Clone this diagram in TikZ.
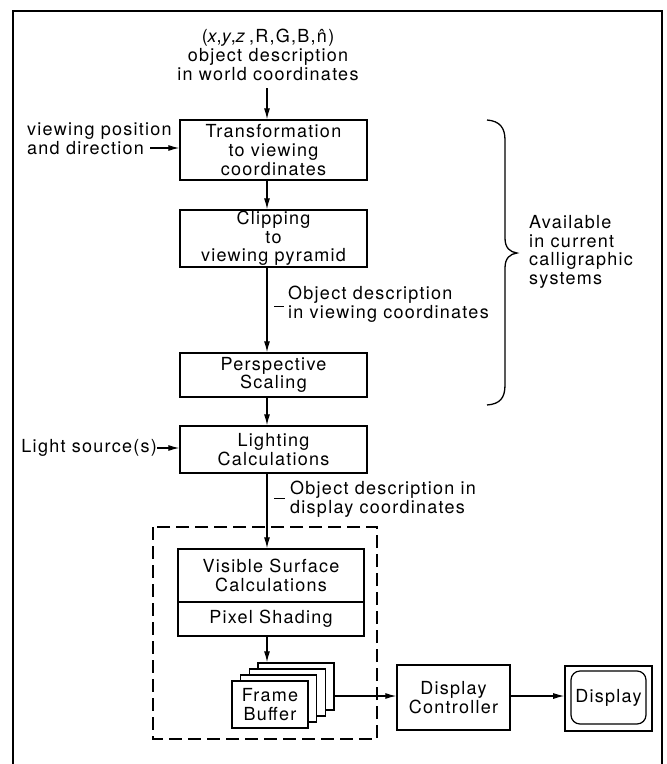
\documentclass[tikz,border=0pt]{standalone}
\usepackage{fontspec}
\setmainfont[LetterSpace=7]{TeX Gyre Heros}
\usetikzlibrary{arrows.meta}
\begin{document}
\begin{tikzpicture}[x=1pt,y=-1pt,
  every node/.style={font=\fontsize{18}{18.7}\selectfont, inner sep=0pt},
  blk/.style={draw, line width=1.5pt, align=center, fill=white},
  card/.style={draw, line width=1.5pt, fill=white, minimum width=76pt, minimum height=47pt},
  arr/.style={line width=1.1pt, -{Latex[length=11pt,width=6pt]}},
  lab/.style={align=left}]
\useasboundingbox (0,0) rectangle (667,764);
% outer frame
\draw[line width=1.5pt] (13,764) -- (13,11) -- (662,11) -- (662,764);
% guide coordinates
\coordinate (ax) at (267,0);
\coordinate (a0) at (267,88);
% top description
\node[align=center] (src) at (268,55) {(\textit{x},\textit{y},\textit{z}\,,R,G,B,\^{n})\\object description\\in world coordinates};
% pipeline boxes
\node[blk, minimum width=187pt, minimum height=60pt] (t1) at (273.5,150) {Transformation\\to viewing\\coordinates};
\node[blk, minimum width=187pt, minimum height=57pt] (t2) at (273.5,238.5) {Clipping\\to\\viewing pyramid};
\node[blk, minimum width=187pt, minimum height=44pt] (t3) at (273.5,375) {Perspective\\Scaling};
\node[blk, minimum width=187pt, minimum height=47pt] (t4) at (273.5,449.5) {Lighting\\Calculations};
% dashed group
\draw[line width=1.3pt, dash pattern=on 13pt off 6pt] (153,527) rectangle (377,739);
\node[blk, minimum width=186pt, minimum height=53pt] (vs1) at (271,575.5) {Visible Surface\\Calculations};
\node[blk, minimum width=186pt, minimum height=34pt] (vs2) at (271,619) {Pixel Shading};
% frame buffer stack
\node[card] (c4) at (296,686.5) {};
\node[card] (c3) at (287.3,692.5) {};
\node[card] (c2) at (278.7,698.5) {};
\node[card, align=center] (c1) at (270,704.5) {Frame\\Buffer};
% display controller and display
\node[blk, minimum width=113pt, minimum height=65pt] (dc) at (453.5,697.5) {Display\\Controller};
\node[draw, line width=1.6pt, minimum width=87pt, minimum height=65pt] (dsp) at (608.5,698.5) {};
\node[draw, line width=1.2pt, rounded corners=9pt, minimum width=75pt, minimum height=53pt] (dspi) at (608.5,697.5) {Display};
% side labels
\node[lab, anchor=west] (vp) at (27,139) {viewing position\\and direction};
\coordinate (vpa) at (150,148);
\node[anchor=east] (ls) at (157,448) {Light source(s)};
\node[lab, anchor=west] (od1) at (288,304) {Object description\\in viewing coordinates};
\node[lab, anchor=west] (od2) at (290,499) {Object description in\\display coordinates};
\coordinate (d1a) at (274,306);
\coordinate (d1b) at (284,306);
\coordinate (d2a) at (274,498);
\coordinate (d2b) at (285,498);
\draw[line width=1pt] (d1a) -- (d1b);
\draw[line width=1pt] (d2a) -- (d2b);
\node[lab, anchor=west] (avail) at (529,252) {Available\\in current\\calligraphic\\systems};
% brace
\draw[line width=1.3pt] (487,120) .. controls (500,121) and (505,128) .. (505,140) -- (505,238)
  .. controls (505,248) and (510,252) .. (517,253)
  .. controls (510,254) and (505,258) .. (505,268) -- (505,385)
  .. controls (505,398) and (500,404) .. (487,405);
% connectors
\draw[arr] (a0) -- (a0 |- t1.north);
\draw[arr] (t1.south -| ax) -- (t2.north -| ax);
\draw[arr] (t2.south -| ax) -- (t3.north -| ax);
\draw[arr] (t3.south -| ax) -- (t4.north -| ax);
\draw[arr] (t4.south -| ax) -- (vs1.north -| ax);
\draw[arr] (vs2.south -| ax) -- (c4.north -| ax);
\draw[arr] (vpa) -- (vpa -| t1.west);
\draw[arr] (ls.east) -- (ls.east -| t4.west);
\coordinate (fb) at (334,696);
\draw[arr] (fb) -- (fb -| dc.west);
\draw[arr] (dc.east |- fb) -- (fb -| dsp.west);
\end{tikzpicture}
\end{document}
